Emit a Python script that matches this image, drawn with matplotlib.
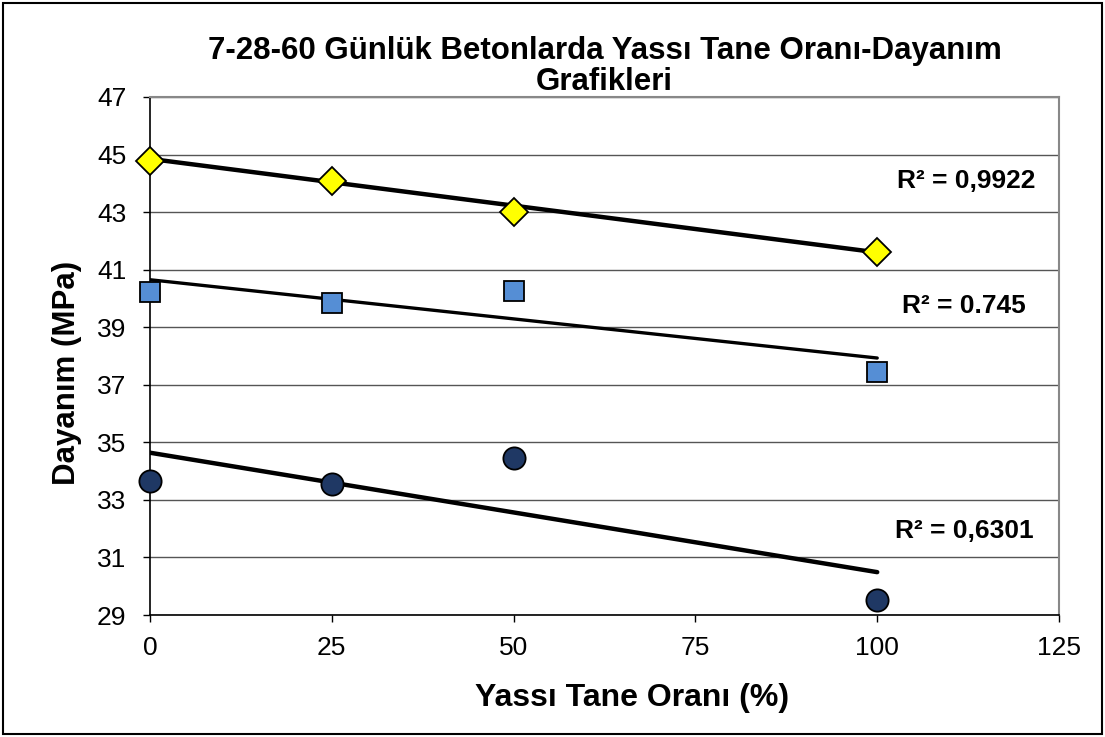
import numpy as np
import matplotlib
matplotlib.use("Agg")
import matplotlib.pyplot as plt
from matplotlib.patches import Rectangle

plt.rcParams['font.family'] = ['Liberation Sans', 'DejaVu Sans']

# veriler
oran = [0, 25, 50, 100]
gun60 = [44.78, 44.08, 43.02, 41.61]
gun28 = [40.22, 39.85, 40.26, 37.44]
gun7 = [33.66, 33.55, 34.47, 29.52]

# trend çizgileri (x=0 ve x=100 uçları)
trend_x = [0, 100]
trend60 = [44.85, 41.60]
trend28 = [40.65, 37.93]
trend7 = [34.64, 30.49]

r2_labels = ["R² = 0,9922", "R² = 0.745", "R² = 0,6301"]
r2_x = [102.7, 103.4, 102.4]
r2_y = [43.84, 39.50, 31.69]

fig = plt.figure(figsize=(11.05, 7.37), dpi=100)
ax = fig.add_axes([0.1357, 0.1655, 0.8227, 0.7029])

# --- grid ---
ax.set_xlim(0, 125)
ax.set_ylim(29, 47)
ax.set_yticks(np.arange(29, 48, 2))
ax.set_xticks([0, 25, 50, 75, 100, 125])
ax.yaxis.grid(True, color='#555555', linewidth=1.0)
ax.set_axisbelow(True)

# --- trend çizgileri ---
for ty in (trend60, trend28, trend7):
    ax.plot(trend_x, ty, color='black', linewidth=3.2 if ty is not trend28 else 2.4,
            solid_capstyle='round', zorder=2)

# --- noktalar ---
ax.plot(oran, gun60, linestyle='none', marker='D', markersize=14,
        markerfacecolor='#FFFF00', markeredgecolor='black', markeredgewidth=1.3,
        zorder=3, clip_on=False)
ax.plot(oran, gun28, linestyle='none', marker='s', markersize=15,
        markerfacecolor='#558ED5', markeredgecolor='black', markeredgewidth=1.3,
        zorder=3, clip_on=False)
ax.plot(oran, gun7, linestyle='none', marker='o', markersize=16,
        markerfacecolor='#1F3864', markeredgecolor='black', markeredgewidth=1.3,
        zorder=3, clip_on=False)

for lbl, xx, yy in zip(r2_labels, r2_x, r2_y):
    ax.text(xx, yy, lbl, fontsize=19, fontweight='bold', va='baseline', ha='left')

# --- eksenler ---
for s in ('top', 'right'):
    ax.spines[s].set_color('#888888')
    ax.spines[s].set_linewidth(1.5)
for s in ('left', 'bottom'):
    ax.spines[s].set_color('black')
    ax.spines[s].set_linewidth(1.2)
ax.tick_params(axis='both', direction='out', length=5, width=1.0, labelsize=19)
ax.tick_params(axis='y', pad=12)
ax.tick_params(axis='x', pad=10)

ax.set_title('7-28-60 Günlük Betonlarda Yassı Tane Oranı-Dayanım\nGrafikleri',
             fontsize=22.5, fontweight='bold', pad=4, linespacing=1.05)
ax.set_xlabel('Yassı Tane Oranı (%)', fontsize=23, fontweight='bold', va='center')
ax.set_ylabel('Dayanım (MPa)', fontsize=22.5, fontweight='bold', va='center')
ax.xaxis.set_label_coords(0.530, -0.160)
ax.yaxis.set_label_coords(-0.091, 0.467)

# dış çerçeve
fig.patches.append(Rectangle((0.003, 0.004), 0.994, 0.992, transform=fig.transFigure,
                             fill=False, edgecolor='black', linewidth=1.5))

fig.savefig('out.png', dpi=100)
